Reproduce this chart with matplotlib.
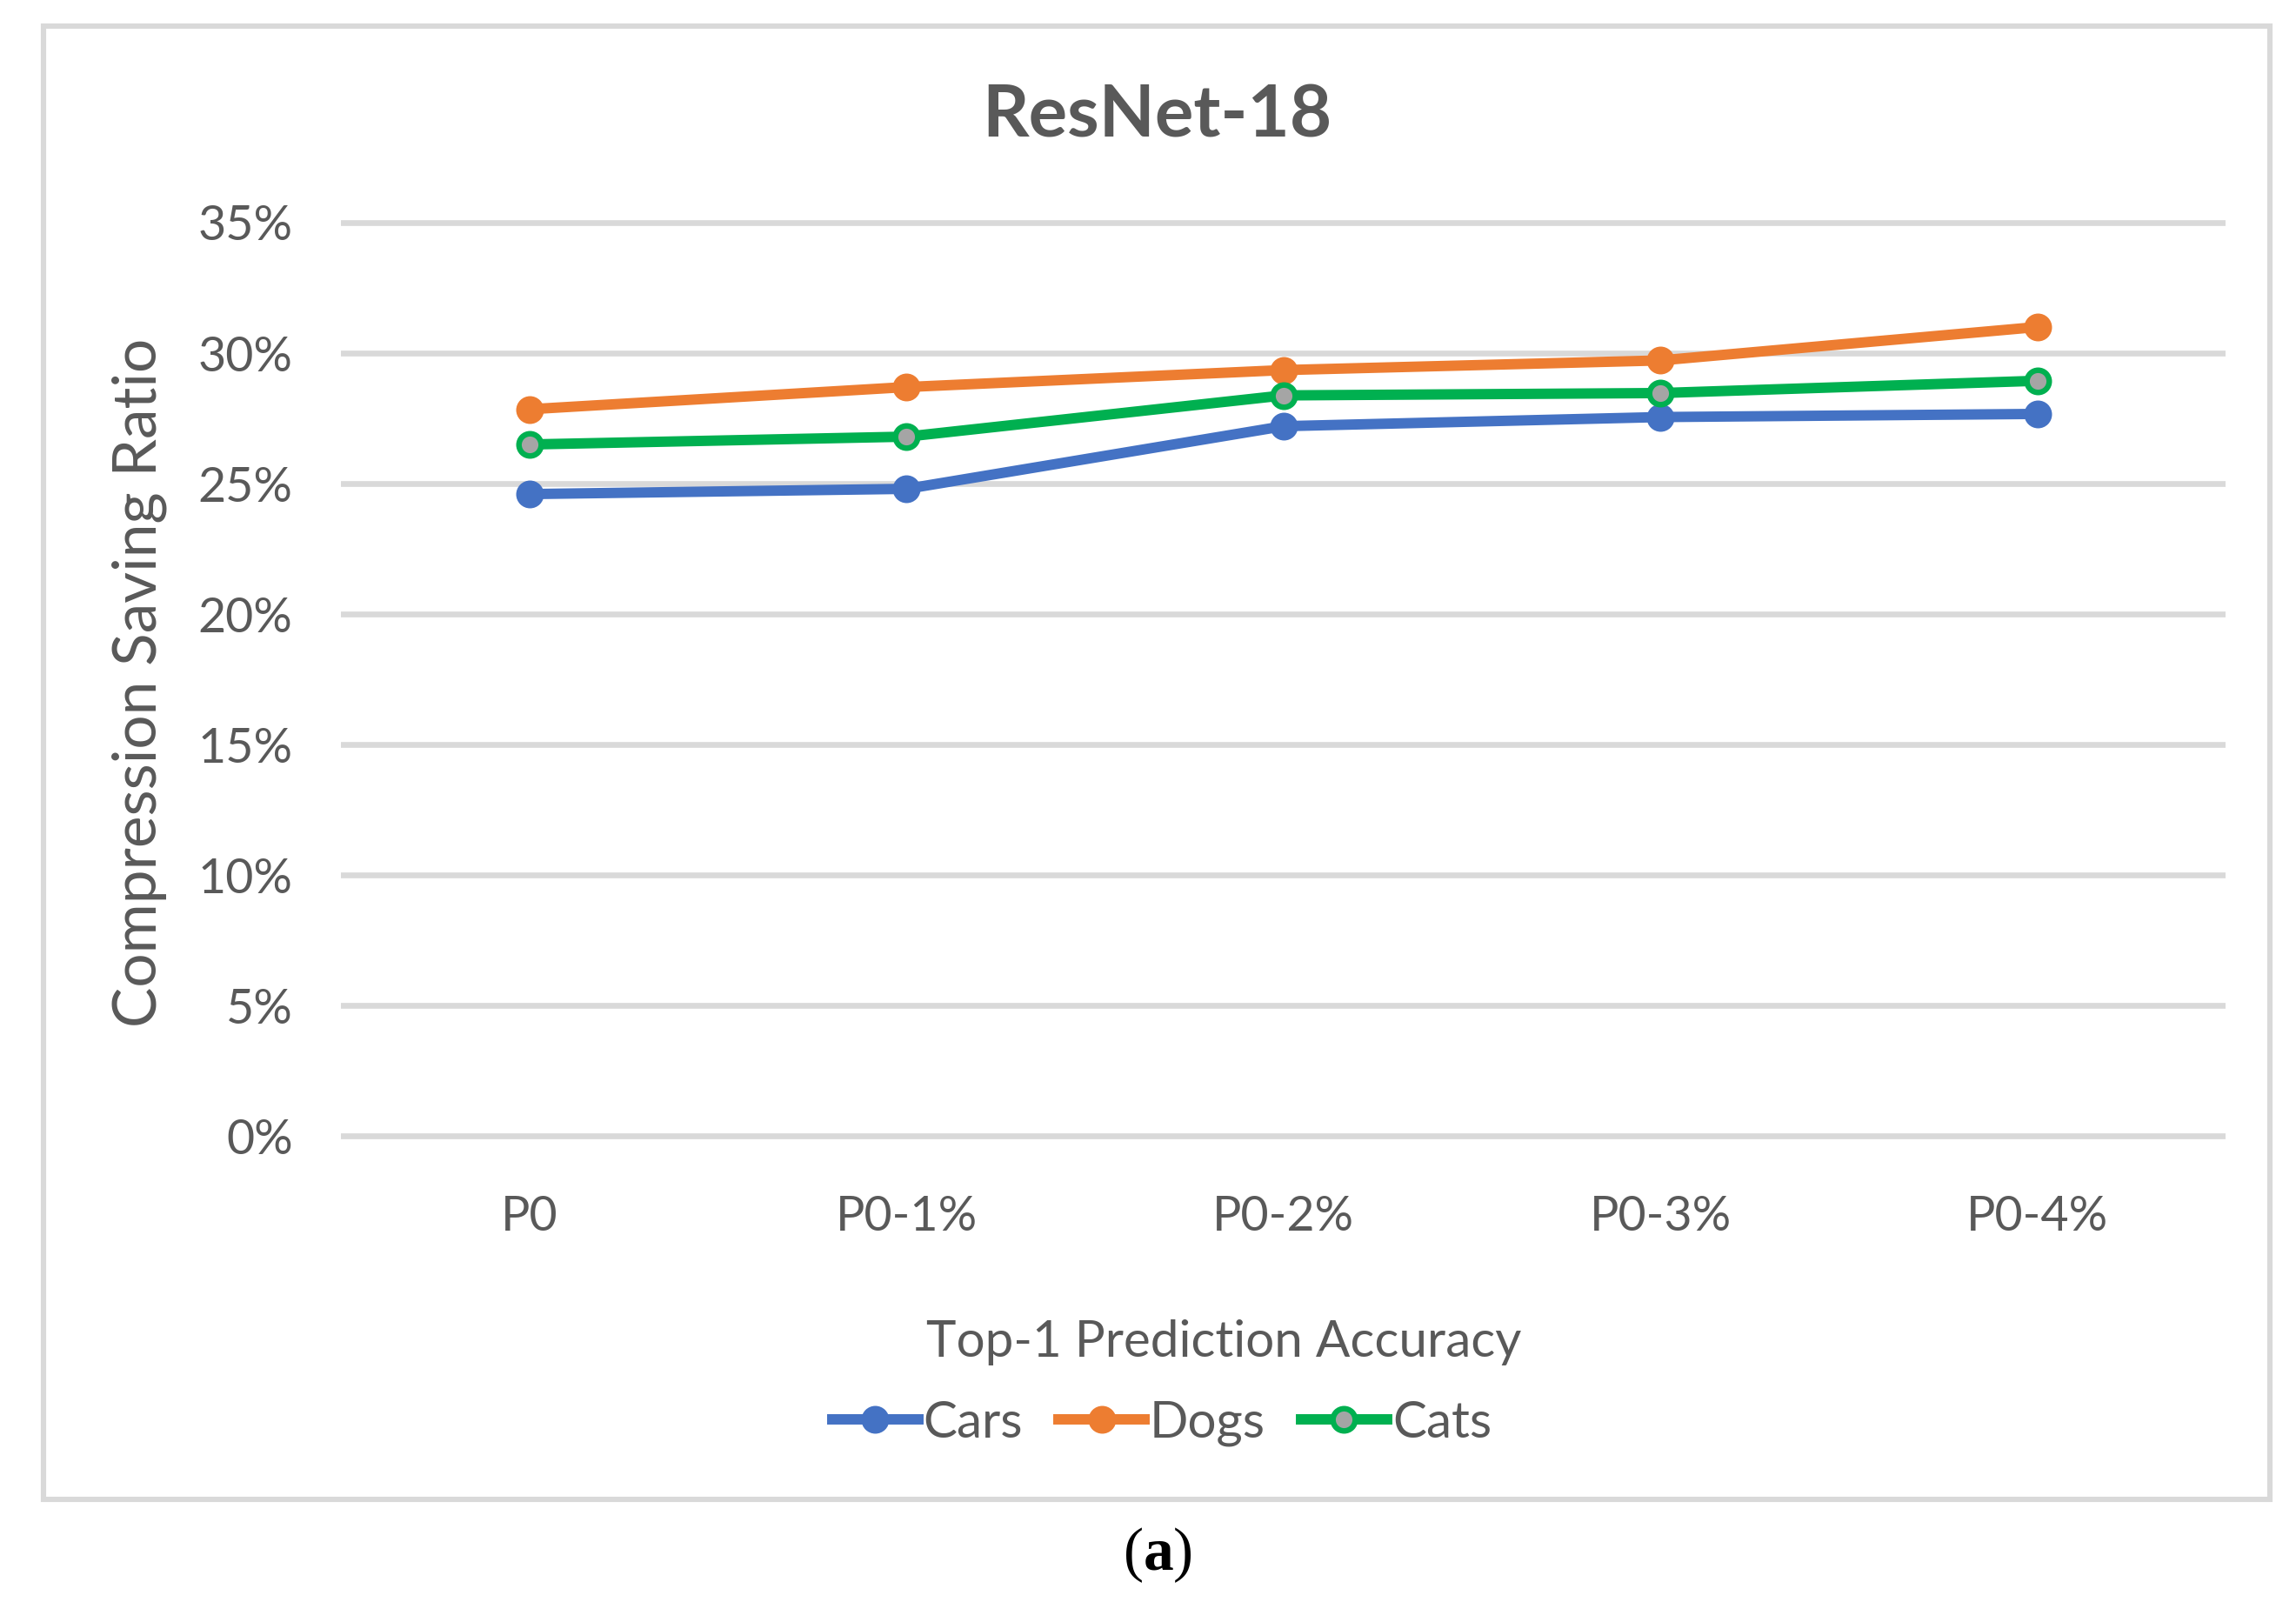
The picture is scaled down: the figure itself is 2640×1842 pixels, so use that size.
import matplotlib
matplotlib.use("Agg")
import matplotlib.pyplot as plt
from matplotlib.patches import Rectangle
from matplotlib.ticker import FuncFormatter

categories = ['P0', 'P0-1%', 'P0-2%', 'P0-3%', 'P0-4%']
cars = [0.246, 0.248, 0.272, 0.2755, 0.2767]
dogs = [0.2785, 0.287, 0.2935, 0.2972, 0.310]
cats = [0.265, 0.268, 0.2838, 0.2847, 0.2894]
yticks = [0, 0.05, 0.10, 0.15, 0.20, 0.25, 0.30, 0.35]

txt = '#595959'
plt.rcParams['font.family'] = ['Lato', 'DejaVu Sans']
plt.rcParams['mathtext.fontset'] = 'custom'
plt.rcParams['mathtext.rm'] = 'Liberation Serif'
plt.rcParams['mathtext.bf'] = 'Liberation Serif:bold'

fig = plt.figure(figsize=(13.2, 9.21), dpi=200)

# chart frame
fig.patches.append(Rectangle((0.0191, 0.064), 0.9694, 0.9195, transform=fig.transFigure,
                             fill=False, edgecolor='#D9D9D9', linewidth=2.2))

ax = fig.add_axes([0.1486, 0.2826, 0.8208, 0.5866])
x = range(len(categories))
ax.plot(x, cars, color='#4472C4', lw=4.3, marker='o', ms=10.5, label='Cars', zorder=3)
ax.plot(x, dogs, color='#ED7D31', lw=4.3, marker='o', ms=10.5, label='Dogs', zorder=3)
ax.plot(x, cats, color='#00B050', lw=4.3, marker='o', ms=9.2, mfc='#A5A5A5', mec='#00B050',
        mew=2.3, label='Cats', zorder=3)

ax.set_xlim(-0.5, 4.5)
ax.set_ylim(-0.005, 0.355)
ax.set_yticks(yticks)
ax.yaxis.set_major_formatter(FuncFormatter(lambda v, p: '%d%%' % round(v * 100)))
ax.set_xticks(list(x))
ax.set_xticklabels(categories)
ax.grid(axis='y', color='#D9D9D9', lw=2.4)
ax.set_axisbelow(True)
for s in ax.spines.values():
    s.set_visible(False)
ax.tick_params(axis='both', length=0, labelsize=20, labelcolor=txt)
ax.tick_params(axis='y', pad=20)
ax.tick_params(axis='x', pad=19)

fig.text(0.504, 0.927, 'ResNet-18', ha='center', va='center', fontsize=30,
         fontweight='bold', color=txt)
fig.text(0.0606, 0.574, 'Compression Saving Ratio', ha='center', va='center',
         rotation=90, fontsize=25, color=txt)
fig.text(0.533, 0.162, 'Top-1 Prediction Accuracy', ha='center', va='center',
         fontsize=21, color=txt)

leg = fig.legend(loc='center', bbox_to_anchor=(0.506, 0.1115), ncol=3, frameon=False,
                 fontsize=21, handlelength=1.7, handletextpad=0.1, columnspacing=0.7,
                 labelcolor=txt)

fig.text(0.504, 0.029, r'$(\mathbf{a})$', ha='center', va='center', fontsize=25,
         color='black')

fig.savefig('out.png', dpi=200, facecolor='white')
